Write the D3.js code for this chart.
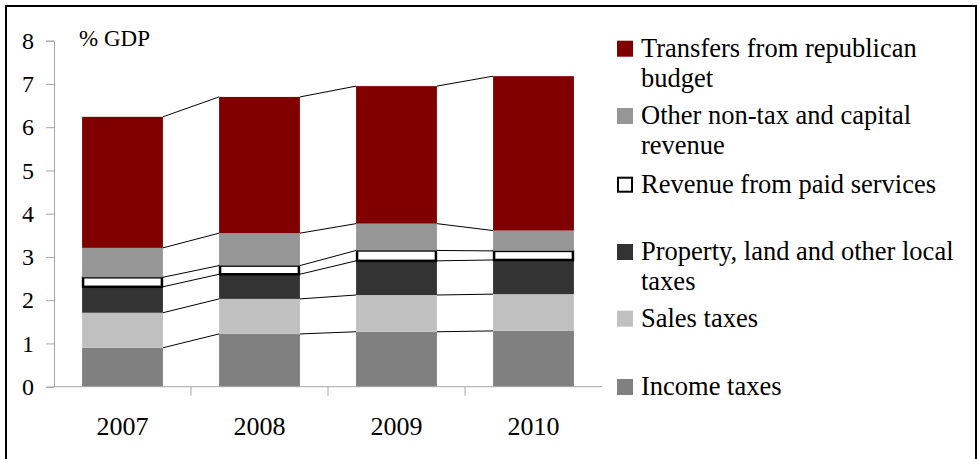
<!DOCTYPE html>
<html>
<head>
<meta charset="utf-8">
<script src="https://cdn.jsdelivr.net/npm/d3@7"></script>
<style>
  body { margin: 0; background: #fff; }
  svg { display: block; font-family: "Liberation Serif", "Times New Roman", serif; }
</style>
</head>
<body>
<svg width="977" height="459"></svg>
<script>
// Data (% of GDP), stacked bottom to top
var years = ["2007", "2008", "2009", "2010"];
var incomeTaxes   = [0.90, 1.22, 1.27, 1.29];
var salesTaxes    = [0.81, 0.81, 0.85, 0.85];
var propertyTaxes = [0.60, 0.57, 0.79, 0.79];
var paidServices  = [0.22, 0.20, 0.24, 0.21];
var otherRevenue  = [0.68, 0.75, 0.62, 0.47];
var transfers     = [3.03, 3.15, 3.18, 3.57];
var yTicks = [0, 1, 2, 3, 4, 5, 6, 7, 8];

var series = [
  { key: "income", values: incomeTaxes, color: "#808080", label: ["Income taxes"] },
  { key: "sales", values: salesTaxes, color: "#c0c0c0", label: ["Sales taxes"] },
  { key: "property", values: propertyTaxes, color: "#333333", label: ["Property, land and other local", "taxes"] },
  { key: "paid", values: paidServices, color: "#ffffff", label: ["Revenue from paid services"] },
  { key: "other", values: otherRevenue, color: "#969696", label: ["Other non-tax and capital", "revenue"] },
  { key: "transfers", values: transfers, color: "#800000", label: ["Transfers from republican", "budget"] }
];

var svg = d3.select("svg");

// outer frame
svg.append("rect")
  .attr("x", 6).attr("y", 6)
  .attr("width", 970).attr("height", 470)
  .attr("fill", "none").attr("stroke", "#000").attr("stroke-width", 2);

var plotLeft = 54, plotRight = 602, plotTop = 40.7, plotBottom = 386.7;

var x = d3.scaleBand().domain(years).range([plotLeft, plotRight]).paddingInner(0.41).paddingOuter(0.205);
var y = d3.scaleLinear().domain([0, 8]).range([plotBottom, plotTop]);

// build stacked table
var table = years.map(function(yr, i) {
  var row = { year: yr };
  series.forEach(function(s) { row[s.key] = s.values[i]; });
  return row;
});
var stack = d3.stack().keys(series.map(function(s) { return s.key; }))(table);

// series lines between bars
var bw = x.bandwidth();
stack.forEach(function(layer) {
  for (var i = 0; i < years.length - 1; i++) {
    svg.append("line")
      .attr("x1", x(years[i]) + bw).attr("y1", y(layer[i][1]))
      .attr("x2", x(years[i + 1])).attr("y2", y(layer[i + 1][1]))
      .attr("stroke", "#000").attr("stroke-width", 1);
  }
});

// bars
stack.forEach(function(layer, k) {
  var s = series[k];
  svg.append("g").selectAll("rect")
    .data(layer)
    .enter().append("rect")
    .attr("x", function(d, i) { return x(years[i]) + (s.key == "paid" ? 1 : 0); })
    .attr("y", function(d) { return y(d[1]); })
    .attr("width", bw - (s.key == "paid" ? 2 : 0))
    .attr("height", function(d) { return y(d[0]) - y(d[1]); })
    .attr("fill", s.color)
    .attr("stroke", s.key == "paid" ? "#000" : "none")
    .attr("stroke-width", s.key == "paid" ? 2.5 : 0);
});

// y axis
var yAxis = svg.append("g")
  .attr("transform", "translate(" + plotLeft + ",0)")
  .call(d3.axisLeft(y).tickValues(yTicks).tickSize(8).tickPadding(12).tickFormat(d3.format("d")));
yAxis.select(".domain").attr("stroke", "#a6a6a6");
yAxis.selectAll(".tick line").attr("stroke", "#a6a6a6");
yAxis.selectAll("text").attr("font-size", 24).attr("fill", "#000").attr("font-family", "Liberation Serif");

// x axis: ticks at category boundaries
var xAxisG = svg.append("g").attr("transform", "translate(0," + plotBottom + ")");
xAxisG.append("line").attr("x1", plotLeft).attr("x2", plotRight).attr("stroke", "#a6a6a6");
var step = x.step();
d3.range(1, years.length).forEach(function(i) {
  var bx = plotLeft + step * i;
  xAxisG.append("line").attr("x1", bx).attr("x2", bx).attr("y1", 0).attr("y2", 9).attr("stroke", "#a6a6a6");
});
xAxisG.selectAll("text.year")
  .data(years)
  .enter().append("text")
  .attr("class", "year")
  .attr("x", function(d) { return x(d) + bw / 2; })
  .attr("y", 48.5)
  .attr("text-anchor", "middle")
  .attr("font-size", 26)
  .text(function(d) { return d; });

// unit label
svg.append("text").attr("x", 79).attr("y", 46).attr("font-size", 23).text("% GDP");

// legend (top to bottom: reverse of stack)
var legendY = [56.7, 124, 192.7, 260, 326.7, 395];
series.slice().reverse().forEach(function(s, i) {
  var g = svg.append("g").attr("transform", "translate(617," + legendY[i] + ")");
  g.append("rect")
    .attr("x", s.key == "paid" ? 1 : 0).attr("y", s.key == "paid" ? -15 : -16)
    .attr("width", s.key == "paid" ? 14 : 16).attr("height", s.key == "paid" ? 14 : 16)
    .attr("fill", s.color)
    .attr("stroke", s.key == "paid" ? "#000" : "none")
    .attr("stroke-width", 2);
  s.label.forEach(function(line, j) {
    g.append("text").attr("x", 24).attr("y", j * 30).attr("font-size", 26.5).text(line);
  });
});
</script>
</body>
</html>
